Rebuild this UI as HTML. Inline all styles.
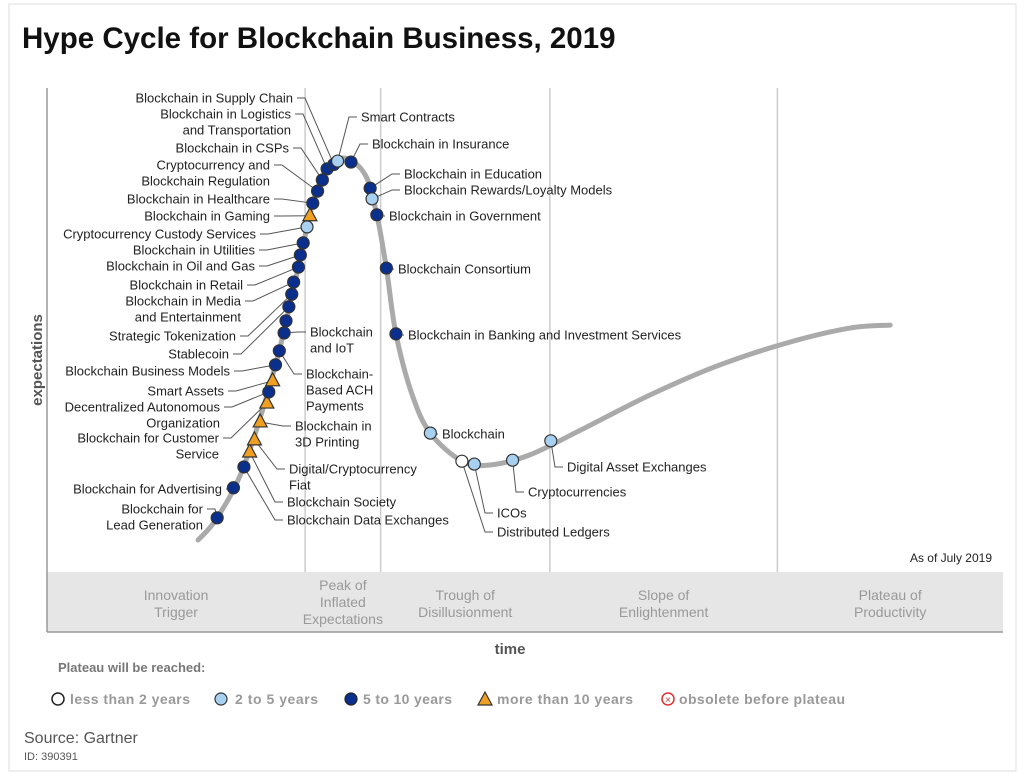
<!DOCTYPE html>
<html><head><meta charset="utf-8"><style>
body{margin:0;background:#fff;}
svg{display:block;font-family:"Liberation Sans",Arial,sans-serif;}
</style></head><body>
<svg id="chart" width="1024" height="776" viewBox="0 0 1024 776">
<rect x="9" y="4" width="1007" height="767" fill="#fff" stroke="#ddd"/>
<text x="22" y="48" font-size="29.5" font-weight="bold" fill="#111">Hype Cycle for Blockchain Business, 2019</text>
<g id="phases"></g>
<line x1="47" y1="632" x2="47" y2="88" stroke="#999" stroke-width="1.5"/>
<line x1="47" y1="632" x2="1003" y2="632" stroke="#999" stroke-width="1.5"/>
<text x="0" y="0" transform="translate(42,360) rotate(-90)" text-anchor="middle" font-size="15" font-weight="bold" fill="#555">expectations</text>
<text x="510" y="654" text-anchor="middle" font-size="15" font-weight="bold" fill="#555">time</text>
<text x="992" y="562" text-anchor="end" font-size="12" fill="#222">As of July 2019</text>
<g id="curve"></g>
<g id="conns"></g>
<g id="marks"></g>
<g id="labels"></g>
<g>
<text x="58" y="672" font-size="13" font-weight="bold" fill="#777">Plateau will be reached:</text>
<g><circle cx="58" cy="699" r="6" fill="#fff" stroke="#222" stroke-width="1.5"/><text x="70" y="704" font-size="14" font-weight="bold" fill="#999" textLength="120">less than 2 years</text></g>
<g><circle cx="221" cy="699" r="6" fill="#a8d0f0" stroke="#333" stroke-width="1.2"/><text x="235" y="704" font-size="14" font-weight="bold" fill="#999" textLength="83">2 to 5 years</text></g>
<g><circle cx="351" cy="699" r="6" fill="#0a2f8c" stroke="#222" stroke-width="1.2"/><text x="363" y="704" font-size="14" font-weight="bold" fill="#999" textLength="89">5 to 10 years</text></g>
<g><polygon points="485,692 478,705 492,705" fill="#f0a020" stroke="#333" stroke-width="1.2"/><text x="497" y="704" font-size="14" font-weight="bold" fill="#999" textLength="136">more than 10 years</text></g>
<g><circle cx="668" cy="699" r="6" fill="#fff" stroke="#e03030" stroke-width="1.5"/><text x="668" y="703" text-anchor="middle" font-size="10" fill="#e03030">×</text><text x="679" y="704" font-size="14" font-weight="bold" fill="#999" textLength="166">obsolete before plateau</text></g>
</g>
<text x="24" y="743" font-size="16" fill="#555">Source: Gartner</text>
<text x="24" y="760" font-size="11" fill="#555">ID: 390391</text>
</svg>
<script>
const phaseNames=[["Innovation","Trigger"],["Peak of","Inflated","Expectations"],["Trough of","Disillusionment"],["Slope of","Enlightenment"],["Plateau of","Productivity"]];
const phaseBounds=[0,27.0,34.9,52.6,76.4,100];
const curveT=[15.8,17.8,20.6,23.9,26.3,27.8,29.3,31.2,33.3,34.5,35.5,36.5,38.2,40.1,43.4,46.3,50.5,55.8,63.1,70.4,77.7,84.0,88.2];
const curveE=[6.6,11.2,21.9,42.8,63.0,76.2,83.3,85.5,82.0,73.8,62.8,49.2,36.6,28.7,22.9,22.1,24.2,29.3,36.6,42.8,47.5,50.4,51.0];
const techNames=["Blockchain for Lead Generation","Blockchain for Advertising","Blockchain Data Exchanges","Blockchain Society","Digital/Cryptocurrency Fiat","Blockchain in 3D Printing","Blockchain for Customer Service","Decentralized Autonomous Organization","Smart Assets","Blockchain Business Models","Blockchain-Based ACH Payments","Blockchain and IoT","Stablecoin","Strategic Tokenization","Blockchain in Media and Entertainment","Blockchain in Retail","Blockchain in Oil and Gas","Blockchain in Utilities","Cryptocurrency Custody Services","Blockchain in Gaming","Blockchain in Healthcare","Cryptocurrency and Blockchain Regulation","Blockchain in CSPs","Blockchain in Logistics and Transportation","Blockchain in Supply Chain","Smart Contracts","Blockchain in Insurance","Blockchain in Education","Blockchain Rewards/Loyalty Models","Blockchain in Government","Blockchain Consortium","Blockchain in Banking and Investment Services","Blockchain","Distributed Ledgers","ICOs","Cryptocurrencies","Digital Asset Exchanges","Blockchain Extra"];
const techTime=[17.8,19.5,20.6,21.2,21.7,22.3,23.0,23.2,23.6,23.9,24.3,24.8,25.3,25.6,25.8,26.3,26.5,26.8,27.2,27.5,27.8,28.3,28.8,29.3,30.0,30.4,31.8,33.8,34.0,34.5,35.5,36.5,40.1,43.4,44.7,48.7,52.7,25.0];
const techExp=[11.2,17.4,21.7,24.8,27.3,31.0,34.9,37.2,39.5,42.8,45.7,49.4,54.8,57.4,59.9,63.0,65.5,68.0,71.3,73.6,76.2,78.7,81.0,83.3,84.2,84.9,84.7,79.3,77.1,73.8,62.8,49.2,28.7,22.9,22.3,23.1,27.1,51.9];
const techCat=["c3","c3","c3","c4","c4","c4","c4","c3","c4","c3","c3","c3","c3","c3","c3","c3","c3","c3","c2","c4","c3","c3","c3","c3","c3","c2","c3","c3","c2","c3","c3","c3","c2","c1","c2","c2","c2","c3"];

const layout={
"Blockchain in Supply Chain":[["Blockchain in Supply Chain"],293,98,"end"],
"Blockchain in Logistics and Transportation":[["Blockchain in Logistics","and Transportation"],291,114,"end"],
"Blockchain in CSPs":[["Blockchain in CSPs"],289,148,"end"],
"Cryptocurrency and Blockchain Regulation":[["Cryptocurrency and","Blockchain Regulation"],270,165,"end"],
"Blockchain in Healthcare":[["Blockchain in Healthcare"],270,199,"end"],
"Blockchain in Gaming":[["Blockchain in Gaming"],270,216,"end"],
"Cryptocurrency Custody Services":[["Cryptocurrency Custody Services"],256,234,"end"],
"Blockchain in Utilities":[["Blockchain in Utilities"],255,250,"end"],
"Blockchain in Oil and Gas":[["Blockchain in Oil and Gas"],255,266,"end"],
"Blockchain in Retail":[["Blockchain in Retail"],243,285,"end"],
"Blockchain in Media and Entertainment":[["Blockchain in Media","and Entertainment"],241,301,"end"],
"Strategic Tokenization":[["Strategic Tokenization"],236,336,"end"],
"Stablecoin":[["Stablecoin"],229,354,"end"],
"Blockchain Business Models":[["Blockchain Business Models"],230,371,"end"],
"Smart Assets":[["Smart Assets"],224,391,"end"],
"Decentralized Autonomous Organization":[["Decentralized Autonomous","Organization"],220,407,"end"],
"Blockchain for Customer Service":[["Blockchain for Customer","Service"],219,438,"end"],
"Blockchain for Advertising":[["Blockchain for Advertising"],222,489,"end"],
"Blockchain for Lead Generation":[["Blockchain for","Lead Generation"],203,509,"end"],
"Blockchain and IoT":[["Blockchain","and IoT"],310,332,"start"],
"Blockchain-Based ACH Payments":[["Blockchain-","Based ACH","Payments"],306,374,"start"],
"Blockchain in 3D Printing":[["Blockchain in","3D Printing"],295,426,"start"],
"Digital/Cryptocurrency Fiat":[["Digital/Cryptocurrency","Fiat"],289,469,"start"],
"Blockchain Society":[["Blockchain Society"],287,502,"start"],
"Blockchain Data Exchanges":[["Blockchain Data Exchanges"],287,520,"start"],
"Smart Contracts":[["Smart Contracts"],361,117,"start"],
"Blockchain in Insurance":[["Blockchain in Insurance"],372,144,"start"],
"Blockchain in Education":[["Blockchain in Education"],404,174,"start"],
"Blockchain Rewards/Loyalty Models":[["Blockchain Rewards/Loyalty Models"],404,190,"start"],
"Blockchain in Government":[["Blockchain in Government"],389,216,"start"],
"Blockchain Consortium":[["Blockchain Consortium"],398,269,"start"],
"Blockchain in Banking and Investment Services":[["Blockchain in Banking and Investment Services"],408,335,"start"],
"Blockchain":[["Blockchain"],442,434,"start"],
"Digital Asset Exchanges":[["Digital Asset Exchanges"],567,467,"start"],
"Cryptocurrencies":[["Cryptocurrencies"],528,492,"start"],
"ICOs":[["ICOs"],497,513,"start"],
"Distributed Ledgers":[["Distributed Ledgers"],497,532,"start"]
};
const NS="http://www.w3.org/2000/svg";
const X=t=>47+t*9.56;
const Y=e=>572-e*4.84;
function mk(tag,attrs,parent){const el=document.createElementNS(NS,tag);for(const k in attrs)el.setAttribute(k,attrs[k]);parent.appendChild(el);return el;}

const ph=document.getElementById('phases');
const band=mk('rect',{x:47,y:572,width:956,height:60,fill:'#e6e6e6'},ph);


for(let i=1;i<phaseBounds.length-1;i++){
  const l=mk('line',{x1:X(phaseBounds[i]),x2:X(phaseBounds[i]),y1:88,y2:572,stroke:'#ccc','stroke-width':1.5},ph);
  
  
}
phaseNames.forEach((lines,i)=>{
  const cx=(X(phaseBounds[i])+X(phaseBounds[i+1]))/2;
  const y0=lines.length===3?590:600;
  const t=mk('text',{x:cx,y:y0,'text-anchor':'middle','font-size':14,fill:'#999'},ph);
  
  
  lines.forEach((s,j)=>{const ts=mk('tspan',{x:cx,dy:j?17:0},t);ts.textContent=s;});
});

const pts=curveT.map((t,i)=>[X(t),Y(curveE[i])]);
let d="M"+pts[0][0]+","+pts[0][1];
for(let i=0;i<pts.length-1;i++){
  const p0=pts[Math.max(0,i-1)],p1=pts[i],p2=pts[i+1],p3=pts[Math.min(pts.length-1,i+2)];
  const c1=[p1[0]+(p2[0]-p0[0])/6,p1[1]+(p2[1]-p0[1])/6];
  const c2=[p2[0]-(p3[0]-p1[0])/6,p2[1]-(p3[1]-p1[1])/6];
  d+=` C${c1[0]},${c1[1]} ${c2[0]},${c2[1]} ${p2[0]},${p2[1]}`;
}
const cp=mk('path',{d:d,fill:'none',stroke:'#aaa','stroke-width':5,'stroke-linecap':'round'},document.getElementById('curve'));



const fills={c1:'#fff',c2:'#a8d0f0',c3:'#0a2f8c',c4:'#f0a020'};
const cg=document.getElementById('conns'),mg=document.getElementById('marks'),lg=document.getElementById('labels');
techNames.forEach((n,i)=>{
  const px=X(techTime[i]),py=Y(techExp[i]);
  const L=layout[n];
  if(L){
    const [lines,lx,ly,anc]=L;
    const t=mk('text',{x:lx,y:ly+4.5,'text-anchor':anc,'font-size':13,fill:'#222'},lg);
    
    
    lines.forEach((s,j)=>{const ts=mk('tspan',{x:lx,dy:j?16:0},t);ts.textContent=s;});
    const ex=anc==='end'?lx+4:lx-4;
    const bx=anc==='end'?ex+8:ex-8;
    const c=mk('polyline',{points:`${ex},${ly} ${bx},${ly} ${px},${py}`,fill:'none',stroke:'#555','stroke-width':1},cg);
    
    
  }
  let m;
  if(techCat[i]==='c4'){
    m=mk('polygon',{points:`${px},${py-8} ${px-7},${py+5} ${px+7},${py+5}`,fill:fills.c4,stroke:'#333','stroke-width':1.2},mg);
  } else {
    m=mk('circle',{cx:px,cy:py,r:6,fill:fills[techCat[i]],stroke:'#333','stroke-width':1.2},mg);
  }
  
  
});
</script>
</body></html>
